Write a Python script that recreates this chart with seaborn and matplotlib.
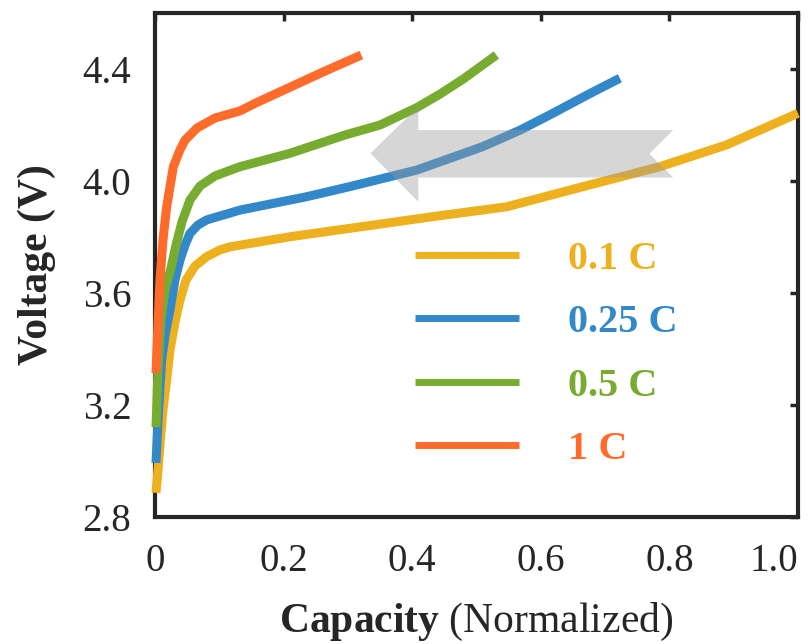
import numpy as np
import pandas as pd
import matplotlib
matplotlib.use("Agg")
import matplotlib.pyplot as plt
from matplotlib.patches import Polygon
import seaborn as sns

# charge curves: capacity (normalized) vs voltage (V)
cap_01 = [0.0016, 0.0047, 0.0078, 0.0124, 0.0182, 0.0233, 0.0311, 0.0389, 0.0482, 0.0622, 0.0804,
          0.101, 0.117, 0.21, 0.303, 0.433, 0.547, 0.666, 0.785, 0.889, 1.0]
v_01 = [2.886, 2.968, 3.057, 3.182, 3.289, 3.396, 3.496, 3.575, 3.646, 3.696, 3.73,
        3.754, 3.765, 3.801, 3.831, 3.873, 3.908, 3.98, 4.051, 4.129, 4.242]

cap_025 = [0.0016, 0.0047, 0.0104, 0.0156, 0.0233, 0.031, 0.0389, 0.0467, 0.0544, 0.0669, 0.0804,
           0.132, 0.236, 0.303, 0.407, 0.51, 0.568, 0.614, 0.677, 0.723]
v_025 = [2.993, 3.146, 3.361, 3.45, 3.539, 3.646, 3.718, 3.771, 3.813, 3.843, 3.861,
         3.896, 3.944, 3.98, 4.039, 4.123, 4.182, 4.236, 4.313, 4.367]

cap_05 = [0.0016, 0.0047, 0.0093, 0.0156, 0.0249, 0.0327, 0.042, 0.0544, 0.07, 0.0933, 0.132,
          0.21, 0.295, 0.35, 0.407, 0.443, 0.48, 0.531]
v_05 = [3.121, 3.325, 3.504, 3.611, 3.689, 3.771, 3.854, 3.932, 3.982, 4.018, 4.051,
        4.099, 4.164, 4.20, 4.262, 4.31, 4.365, 4.45]

cap_1 = [0.0016, 0.0036, 0.0078, 0.0124, 0.0182, 0.0285, 0.0389, 0.0467, 0.0653, 0.0933, 0.132,
         0.158, 0.21, 0.262, 0.321]
v_1 = [3.314, 3.432, 3.646, 3.789, 3.908, 4.051, 4.111, 4.146, 4.189, 4.225, 4.25,
       4.28, 4.335, 4.39, 4.45]

rates = ["0.1 C", "0.25 C", "0.5 C", "1 C"]
colors = ["#EDB120", "#3288C9", "#77AC30", "#FF6B2B"]

x_ticks = [0, 0.2, 0.4, 0.6, 0.8, 1.0]
x_labels = ["0", "0.2", "0.4", "0.6", "0.8", "1.0"]
y_ticks = [2.8, 3.2, 3.6, 4.0, 4.4]

frames = []
for rate, c, v in zip(rates, [cap_01, cap_025, cap_05, cap_1], [v_01, v_025, v_05, v_1]):
    frames.append(pd.DataFrame({"capacity": c, "voltage": v, "rate": rate}))
df = pd.concat(frames, ignore_index=True)

sns.set_style("white")
plt.rcParams["font.family"] = ["Liberation Serif", "DejaVu Serif"]
plt.rcParams["mathtext.fontset"] = "custom"
plt.rcParams["mathtext.rm"] = "Liberation Serif"
plt.rcParams["mathtext.bf"] = "Liberation Serif:bold"

fig = plt.figure(figsize=(8.11, 6.44), dpi=100)
ax = fig.add_axes([0.1911, 0.1972, 0.7928, 0.7826])

sns.lineplot(data=df, x="capacity", y="voltage", hue="rate", hue_order=rates,
             palette=dict(zip(rates, colors)), sort=False, estimator=None,
             linewidth=6.5, solid_capstyle="butt", solid_joinstyle="round",
             legend=False, ax=ax)
for ln in ax.lines:
    ln.set_zorder(3)
    ln.set_clip_on(False)

# grey arrow showing the shift with rate
arrow = Polygon([(0.335, 4.099), (0.4095, 4.265), (0.4095, 4.182), (0.806, 4.182),
                 (0.769, 4.097), (0.806, 4.0125), (0.4095, 4.0125), (0.4095, 3.926)],
                closed=True, facecolor="#9a9a9a", edgecolor="none", alpha=0.4, zorder=5)
ax.add_patch(arrow)

ax.set_xlim(0, 1.0)
ax.set_ylim(2.8, 4.6)
ax.set_xticks(x_ticks)
ax.set_xticklabels(x_labels)
ax.get_xticklabels()[-1].set_horizontalalignment("right")
ax.set_yticks(y_ticks)
ax.set_yticklabels([f"{t:.1f}" for t in y_ticks])

for s in ax.spines.values():
    s.set_linewidth(3)
    s.set_color("#262626")
ax.tick_params(direction="in", length=6, width=2.5, color="#262626",
               top=True, right=True, labelsize=28)
ax.tick_params(axis="x", pad=19)
ax.tick_params(axis="y", pad=17)

ax.set_xlabel(r"$\mathbf{Capacity}$ (Normalized)", fontsize=30, labelpad=15)
ax.set_ylabel("Voltage (V)", fontsize=30, fontweight="bold", labelpad=19)

leg = ax.legend(ax.lines[:4], rates, loc="upper left", bbox_to_anchor=(0.404, 0.548),
                frameon=False, borderpad=0, borderaxespad=0, handlelength=2.6,
                handletextpad=1.2, labelspacing=0.65, labelcolor="linecolor",
                prop={"family": "Liberation Serif", "weight": "bold", "size": 29})
for h in leg.legend_handles:
    h.set_linewidth(5)

fig.savefig("out.png", dpi=100)
